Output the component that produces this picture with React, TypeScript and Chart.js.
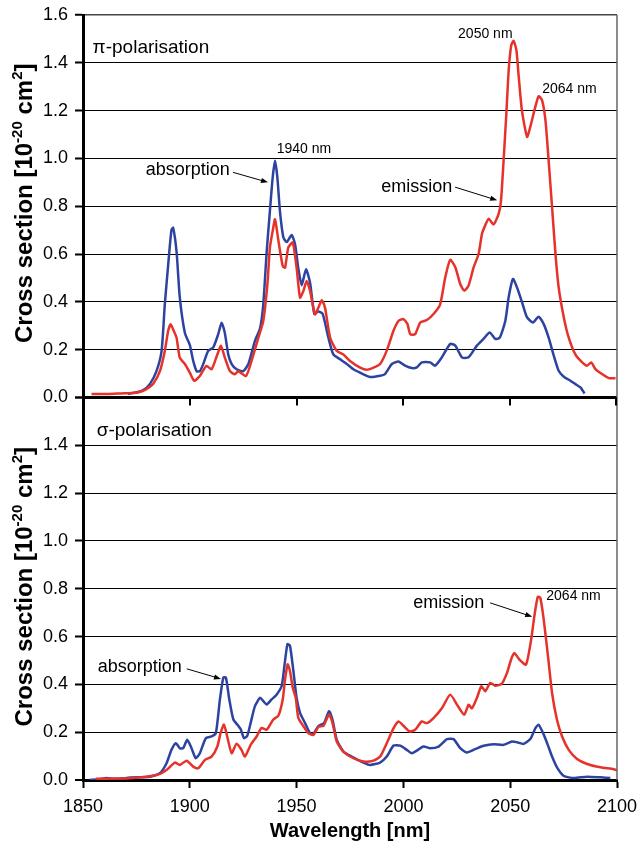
import React, { useEffect, useRef } from 'react';
import { Chart, registerables } from 'chart.js';

Chart.register(...registerables);

const FONT = "'Liberation Sans', Arial, Helvetica, sans-serif";
const RED = '#e5322b';
const BLUE = '#2d43a0';

// Wavelength axis ticks [nm]
const xTicks = [1850, 1900, 1950, 2000, 2050, 2100];

// π-polarisation, absorption (blue)
const piAbsWl = [1871, 1875, 1878, 1881.3, 1884.4, 1886.8, 1888.3, 1889.9, 1891.4, 1892.2, 1893.8, 1895.3, 1897.7, 1900, 1901.6, 1903.2, 1904.7, 1906.3, 1908.6, 1911, 1913.3, 1914.9, 1916.4, 1918, 1919.6, 1921.9, 1925, 1927.4, 1930.5, 1932.9, 1934.4, 1936, 1937.5, 1938.8, 1939.9, 1941, 1942.2, 1943.8, 1945.4, 1947.7, 1949.3, 1950.8, 1952.4, 1954.4, 1956.3, 1958.3, 1960.2, 1962.2, 1964.9, 1967.2, 1970.4, 1973.5, 1976.6, 1981.3, 1984.4, 1989.1, 1991.4, 1994.6, 1997.7, 2000.8, 2003.9, 2006.3, 2008.6, 2012.5, 2014.9, 2018, 2021.9, 2024.3, 2027.4, 2030.5, 2034.4, 2037.5, 2040.4, 2043, 2045.1, 2047.7, 2049.3, 2051.3, 2053.2, 2055.5, 2057.9, 2060.7, 2063.3, 2065.7, 2068, 2070.4, 2072.7, 2075.1, 2078.2, 2080.5, 2082.9, 2084.8];
const piAbsVal = [0.015, 0.022, 0.03, 0.056, 0.11, 0.195, 0.39, 0.557, 0.7, 0.71, 0.61, 0.42, 0.27, 0.22, 0.153, 0.11, 0.11, 0.14, 0.195, 0.21, 0.265, 0.313, 0.27, 0.18, 0.14, 0.118, 0.11, 0.14, 0.237, 0.29, 0.39, 0.61, 0.78, 0.92, 0.99, 0.92, 0.78, 0.67, 0.65, 0.68, 0.64, 0.54, 0.47, 0.536, 0.48, 0.35, 0.36, 0.35, 0.25, 0.18, 0.16, 0.14, 0.118, 0.097, 0.086, 0.091, 0.098, 0.14, 0.151, 0.133, 0.123, 0.126, 0.147, 0.147, 0.133, 0.168, 0.224, 0.217, 0.168, 0.168, 0.217, 0.245, 0.272, 0.245, 0.25, 0.32, 0.42, 0.496, 0.46, 0.4, 0.335, 0.314, 0.338, 0.307, 0.25, 0.175, 0.112, 0.087, 0.07, 0.056, 0.042, 0.017];

// π-polarisation, emission (red)
const piEmWl = [1854, 1862, 1868, 1872, 1876, 1879.7, 1882.8, 1886, 1888.3, 1889.9, 1891, 1892.2, 1893.8, 1895.3, 1897.7, 1900, 1902.1, 1904.7, 1907.8, 1910.2, 1912.9, 1914.6, 1916.4, 1918.8, 1921.1, 1922.7, 1926.3, 1928.9, 1932.1, 1934.4, 1936.3, 1937.5, 1938.8, 1939.9, 1941.5, 1943.5, 1944.6, 1946.1, 1948.2, 1950, 1951.6, 1953.2, 1954.7, 1956.3, 1958.6, 1960.2, 1961.8, 1963.3, 1965.7, 1968.8, 1971.9, 1975, 1979.8, 1982.8, 1986, 1989.1, 1992.2, 1995.4, 1997.7, 2000, 2001.9, 2003.2, 2005.5, 2007.9, 2011, 2014.1, 2017.2, 2019.6, 2021.9, 2024.3, 2026.6, 2028.5, 2030.5, 2032.9, 2035.2, 2036.8, 2038.3, 2039.9, 2042.2, 2044.6, 2045.7, 2046.9, 2048.2, 2049.3, 2050.5, 2051.6, 2052.9, 2054, 2055.5, 2057.9, 2059.4, 2061.3, 2063.3, 2064.9, 2066.5, 2068, 2069.6, 2071.2, 2072.7, 2075.1, 2077.4, 2080.5, 2083.7, 2086, 2087.9, 2089.9, 2093, 2096.2, 2099.3];
const piEmVal = [0.015, 0.015, 0.017, 0.018, 0.022, 0.035, 0.056, 0.11, 0.195, 0.28, 0.306, 0.285, 0.25, 0.167, 0.14, 0.104, 0.07, 0.09, 0.132, 0.118, 0.18, 0.216, 0.167, 0.11, 0.097, 0.11, 0.09, 0.153, 0.25, 0.32, 0.47, 0.627, 0.696, 0.745, 0.655, 0.55, 0.543, 0.627, 0.648, 0.543, 0.418, 0.446, 0.487, 0.446, 0.348, 0.376, 0.407, 0.376, 0.25, 0.195, 0.18, 0.153, 0.125, 0.116, 0.125, 0.14, 0.196, 0.28, 0.32, 0.328, 0.307, 0.265, 0.265, 0.314, 0.324, 0.349, 0.39, 0.503, 0.576, 0.545, 0.475, 0.447, 0.468, 0.545, 0.6, 0.685, 0.72, 0.748, 0.724, 0.768, 0.824, 0.99, 1.188, 1.37, 1.474, 1.492, 1.453, 1.341, 1.2, 1.09, 1.132, 1.2, 1.26, 1.244, 1.16, 0.99, 0.796, 0.6, 0.46, 0.335, 0.25, 0.18, 0.147, 0.133, 0.147, 0.119, 0.098, 0.081, 0.081];

// σ-polarisation, absorption (blue)
const sigAbsWl = [1853, 1858, 1861, 1864, 1868, 1872, 1881.3, 1886, 1889.1, 1891.4, 1893.5, 1895.3, 1896.9, 1898.8, 1900.8, 1902.8, 1904.7, 1907.5, 1910.2, 1912.2, 1914.1, 1915.7, 1916.9, 1918.5, 1920.4, 1922.7, 1923.8, 1925.4, 1926.9, 1928.5, 1930.5, 1932.9, 1934.4, 1936, 1938.3, 1940.7, 1943, 1944.3, 1945.7, 1946.9, 1948.5, 1950, 1951.6, 1953.9, 1956, 1957.5, 1960.2, 1962.9, 1965.2, 1966.8, 1968.8, 1971.9, 1975.8, 1981.3, 1984.4, 1989.1, 1992.2, 1995.4, 1998.5, 2001.6, 2003.9, 2006.3, 2009.4, 2012.5, 2016.5, 2020.4, 2023.5, 2026.6, 2029.7, 2033.6, 2037.6, 2042.2, 2046.9, 2050.8, 2053.2, 2056.3, 2059.4, 2061.8, 2063.3, 2065.4, 2067.3, 2069.6, 2071.9, 2075.1, 2079.8, 2086, 2092.3, 2096.9];
const sigAbsVal = [0.0, 0.003, 0.008, 0.004, 0.006, 0.01, 0.014, 0.028, 0.07, 0.126, 0.154, 0.133, 0.133, 0.168, 0.133, 0.091, 0.112, 0.175, 0.182, 0.196, 0.337, 0.428, 0.428, 0.337, 0.253, 0.227, 0.213, 0.175, 0.185, 0.239, 0.309, 0.344, 0.33, 0.316, 0.337, 0.358, 0.393, 0.477, 0.568, 0.561, 0.456, 0.344, 0.281, 0.239, 0.2, 0.189, 0.225, 0.239, 0.288, 0.253, 0.168, 0.119, 0.098, 0.073, 0.063, 0.073, 0.098, 0.144, 0.144, 0.126, 0.112, 0.123, 0.14, 0.133, 0.14, 0.171, 0.171, 0.133, 0.115, 0.129, 0.143, 0.15, 0.147, 0.161, 0.158, 0.151, 0.171, 0.217, 0.231, 0.196, 0.154, 0.098, 0.053, 0.017, 0.008, 0.014, 0.011, 0.008];

// σ-polarisation, emission (red)
const sigEmWl = [1856, 1865, 1872, 1884.4, 1889.1, 1893, 1895.3, 1898.5, 1901.6, 1903.9, 1907.1, 1910.2, 1912.9, 1914.4, 1916, 1917.5, 1919.6, 1921.9, 1924.2, 1925.8, 1928.5, 1931.3, 1933.6, 1936, 1939.1, 1941.5, 1943.5, 1944.6, 1945.8, 1946.9, 1948.2, 1949.6, 1950.8, 1953.2, 1955.5, 1957.9, 1960.2, 1962.6, 1965.2, 1966.8, 1968.8, 1971.9, 1976.6, 1981.3, 1986, 1989.1, 1992.2, 1995.4, 1997.7, 2000, 2002.9, 2005.5, 2008.6, 2011, 2014.1, 2018, 2021.9, 2025.1, 2028.5, 2030.5, 2032.1, 2034.4, 2036.5, 2038.3, 2040.7, 2043, 2046.1, 2048.5, 2050.5, 2051.9, 2054.4, 2057.4, 2059.8, 2061.3, 2062.9, 2064.1, 2065.7, 2067.7, 2069.6, 2071.9, 2074.3, 2077.4, 2081.3, 2086, 2092.3, 2098.5, 2100];
const sigEmVal = [0.005, 0.006, 0.007, 0.021, 0.042, 0.073, 0.063, 0.081, 0.056, 0.049, 0.084, 0.098, 0.14, 0.196, 0.232, 0.182, 0.112, 0.152, 0.126, 0.098, 0.147, 0.182, 0.218, 0.21, 0.253, 0.27, 0.337, 0.421, 0.484, 0.456, 0.386, 0.344, 0.26, 0.225, 0.196, 0.189, 0.222, 0.227, 0.274, 0.239, 0.161, 0.119, 0.091, 0.077, 0.081, 0.098, 0.154, 0.217, 0.245, 0.227, 0.203, 0.21, 0.245, 0.238, 0.259, 0.3, 0.357, 0.315, 0.273, 0.315, 0.3, 0.343, 0.392, 0.371, 0.406, 0.394, 0.403, 0.448, 0.506, 0.531, 0.503, 0.483, 0.587, 0.685, 0.766, 0.762, 0.671, 0.517, 0.364, 0.252, 0.182, 0.126, 0.088, 0.067, 0.053, 0.045, 0.04];

const toPoints = (wl: number[], val: number[]) => wl.map((x, i) => ({ x, y: val[i] }));

type Note = { text: string; panel: 'yTop' | 'yBot'; x: number; y: number; size: number };
type Arrow = { panel: 'yTop' | 'yBot'; x0: number; y0: number; x1: number; y1: number };

const notes: Note[] = [
  { text: 'π-polarisation', panel: 'yTop', x: 1854.5, y: 1.44, size: 19 },
  { text: 'absorption', panel: 'yTop', x: 1879.4, y: 0.93, size: 18 },
  { text: '1940 nm', panel: 'yTop', x: 1940.7, y: 1.022, size: 14 },
  { text: '2050 nm', panel: 'yTop', x: 2025.6, y: 1.504, size: 14 },
  { text: '2064 nm', panel: 'yTop', x: 2065, y: 1.273, size: 14 },
  { text: 'emission', panel: 'yTop', x: 1989.6, y: 0.859, size: 18 },
  { text: 'σ-polarisation', panel: 'yBot', x: 1856.4, y: 1.437, size: 19 },
  { text: 'emission', panel: 'yBot', x: 2004.6, y: 0.72, size: 18 },
  { text: '2064 nm', panel: 'yBot', x: 2066.9, y: 0.754, size: 14 },
  { text: 'absorption', panel: 'yBot', x: 1856.9, y: 0.452, size: 18 },
];

const arrows: Arrow[] = [
  { panel: 'yTop', x0: 1920.2, y0: 0.942, x1: 1936.6, y1: 0.9 },
  { panel: 'yTop', x0: 2024.2, y0: 0.88, x1: 2043.9, y1: 0.825 },
  { panel: 'yBot', x0: 2040.6, y0: 0.741, x1: 2060.3, y1: 0.683 },
  { panel: 'yBot', x0: 1898.6, y0: 0.465, x1: 1914.6, y1: 0.423 },
];

function drawYTitle(ctx: CanvasRenderingContext2D, cx: number, cy: number, size: number) {
  const parts = [
    { t: 'Cross section [10', sup: false, w: 0 },
    { t: '-20', sup: true, w: 0 },
    { t: ' cm', sup: false, w: 0 },
    { t: '2', sup: true, w: 0 },
    { t: ']', sup: false, w: 0 },
  ];
  const big = `bold ${size}px ${FONT}`;
  const small = `bold ${Math.round(size * 0.62)}px ${FONT}`;
  let total = 0;
  for (const p of parts) {
    ctx.font = p.sup ? small : big;
    p.w = ctx.measureText(p.t).width;
    total += p.w;
  }
  ctx.save();
  ctx.translate(cx, cy);
  ctx.rotate(-Math.PI / 2);
  ctx.textAlign = 'left';
  ctx.textBaseline = 'alphabetic';
  ctx.fillStyle = '#000';
  let pos = -total / 2;
  for (const p of parts) {
    ctx.font = p.sup ? small : big;
    ctx.fillText(p.t, pos, p.sup ? -size * 0.42 : 0);
    pos += p.w;
  }
  ctx.restore();
}

const decorPlugin = {
  id: 'decor',
  afterDraw(chart: any) {
    const { ctx, chartArea, scales } = chart;
    const xs = scales.x;
    ctx.save();
    // right frame
    ctx.strokeStyle = '#666';
    ctx.lineWidth = 1.5;
    ctx.beginPath();
    ctx.moveTo(chartArea.right, chartArea.top);
    ctx.lineTo(chartArea.right, chartArea.bottom);
    ctx.stroke();
    // tick marks of the upper panel's wavelength axis
    const ym = scales.yTop.getPixelForValue(0);
    ctx.strokeStyle = '#000';
    ctx.lineWidth = 2;
    for (const v of xTicks) {
      if (v === xTicks[0]) continue;
      const px = Math.round(xs.getPixelForValue(v)) - (v === xTicks[xTicks.length - 1] ? 1 : 0);
      ctx.beginPath();
      ctx.moveTo(px, ym);
      ctx.lineTo(px, ym + 8);
      ctx.stroke();
    }
    // annotations
    ctx.fillStyle = '#000';
    ctx.textAlign = 'left';
    ctx.textBaseline = 'alphabetic';
    for (const n of notes) {
      ctx.font = `${n.size}px ${FONT}`;
      ctx.fillText(n.text, xs.getPixelForValue(n.x), scales[n.panel].getPixelForValue(n.y));
    }
    ctx.lineWidth = 1;
    for (const a of arrows) {
      const ys = scales[a.panel];
      const x0 = xs.getPixelForValue(a.x0), y0 = ys.getPixelForValue(a.y0);
      const x1 = xs.getPixelForValue(a.x1), y1 = ys.getPixelForValue(a.y1);
      const ang = Math.atan2(y1 - y0, x1 - x0);
      ctx.beginPath();
      ctx.moveTo(x0, y0);
      ctx.lineTo(x1 - 5 * Math.cos(ang), y1 - 5 * Math.sin(ang));
      ctx.stroke();
      ctx.beginPath();
      ctx.moveTo(x1, y1);
      ctx.lineTo(x1 - 7 * Math.cos(ang) + 2.6 * Math.sin(ang), y1 - 7 * Math.sin(ang) - 2.6 * Math.cos(ang));
      ctx.lineTo(x1 - 7 * Math.cos(ang) - 2.6 * Math.sin(ang), y1 - 7 * Math.sin(ang) + 2.6 * Math.cos(ang));
      ctx.closePath();
      ctx.fill();
    }
    // axis titles
    const topMid = (scales.yTop.top + scales.yTop.bottom) / 2;
    const botMid = (scales.yBot.top + scales.yBot.bottom) / 2;
    drawYTitle(ctx, 32, topMid - 3, 24);
    drawYTitle(ctx, 32, botMid - 2, 24);
    ctx.font = `bold 20px ${FONT}`;
    ctx.textAlign = 'center';
    ctx.fillText('Wavelength [nm]', (chartArea.left + chartArea.right) / 2, 837);
    ctx.restore();
  },
};

function yAxis(isTop: boolean) {
  return {
    type: 'linear' as const,
    position: 'left' as const,
    stack: 'panels',
    stackWeight: 1,
    min: 0,
    max: 1.6,
    afterFit: (s: any) => {
      s.width = 83;
      s.paddingTop = 0;
      s.paddingBottom = 0;
    },
    ticks: {
      stepSize: 0.2,
      color: '#000',
      padding: 7,
      font: { size: 18, family: FONT },
      callback: (v: any) => {
        const n = Number(v);
        if (!isTop && Math.abs(n - 1.6) < 1e-6) return '';
        return n.toFixed(1);
      },
    },
    grid: {
      drawTicks: true,
      tickLength: 8,
      tickColor: '#000',
      tickWidth: 2,
      color: (c: any) => {
        const v = c.tick ? c.tick.value : -1;
        if (isTop && Math.abs(v - 1.6) < 1e-6) return '#444';
        return '#000';
      },
      lineWidth: (c: any) => {
        const v = c.tick ? c.tick.value : -1;
        if (isTop && Math.abs(v) < 1e-6) return 3;
        if (!isTop && Math.abs(v - 1.6) < 1e-6) return 3;
        if (!isTop && Math.abs(v) < 1e-6) return 0;
        if (isTop && Math.abs(v - 1.6) < 1e-6) return 1.5;
        return 1;
      },
    },
    border: { color: '#000', width: 3 },
  };
}

export default function App() {
  const ref = useRef<HTMLCanvasElement | null>(null);
  useEffect(() => {
    if (!ref.current) return;
    const line = (label: string, wl: number[], val: number[], color: string, axis: string) => ({
      label,
      data: toPoints(wl, val),
      borderColor: color,
      backgroundColor: color,
      borderWidth: 2.5,
      pointRadius: 0,
      tension: 0.2,
      fill: false,
      yAxisID: axis,
      borderJoinStyle: 'round' as const,
    });
    const chart = new Chart(ref.current, {
      type: 'line',
      data: {
        datasets: [
          line('π emission', piEmWl, piEmVal, RED, 'yTop'),
          line('π absorption', piAbsWl, piAbsVal, BLUE, 'yTop'),
          line('σ emission', sigEmWl, sigEmVal, RED, 'yBot'),
          line('σ absorption', sigAbsWl, sigAbsVal, BLUE, 'yBot'),
        ],
      },
      options: {
        animation: false,
        responsive: false,
        devicePixelRatio: 1,
        parsing: true,
        layout: { padding: { top: 15, right: 23, bottom: 0, left: 0 } },
        plugins: { legend: { display: false }, tooltip: { enabled: false } },
        scales: {
          x: {
            type: 'linear',
            position: 'bottom',
            min: 1850,
            max: 2100,
            afterFit: (s: any) => {
              s.height = 64;
              s.paddingLeft = 0;
              s.paddingRight = 0;
            },
            afterBuildTicks: (s: any) => {
              s.ticks = xTicks.map((v) => ({ value: v }));
            },
            ticks: {
              color: '#000',
              padding: 8,
              maxRotation: 0,
              font: { size: 18, family: FONT },
              callback: (v: any) => String(v),
            },
            grid: { drawOnChartArea: false, drawTicks: true, tickLength: 8, tickColor: '#000', tickWidth: 2 },
            border: { color: '#000', width: 3 },
          },
          yBot: yAxis(false),
          yTop: yAxis(true),
        },
      },
      plugins: [decorPlugin],
    });
    return () => chart.destroy();
  }, []);
  return (
    <div style={{ position: 'absolute', left: 0, top: 0, width: 640, height: 844, background: '#fff' }}>
      <canvas ref={ref} width={640} height={844} style={{ display: 'block' }} />
    </div>
  );
}
